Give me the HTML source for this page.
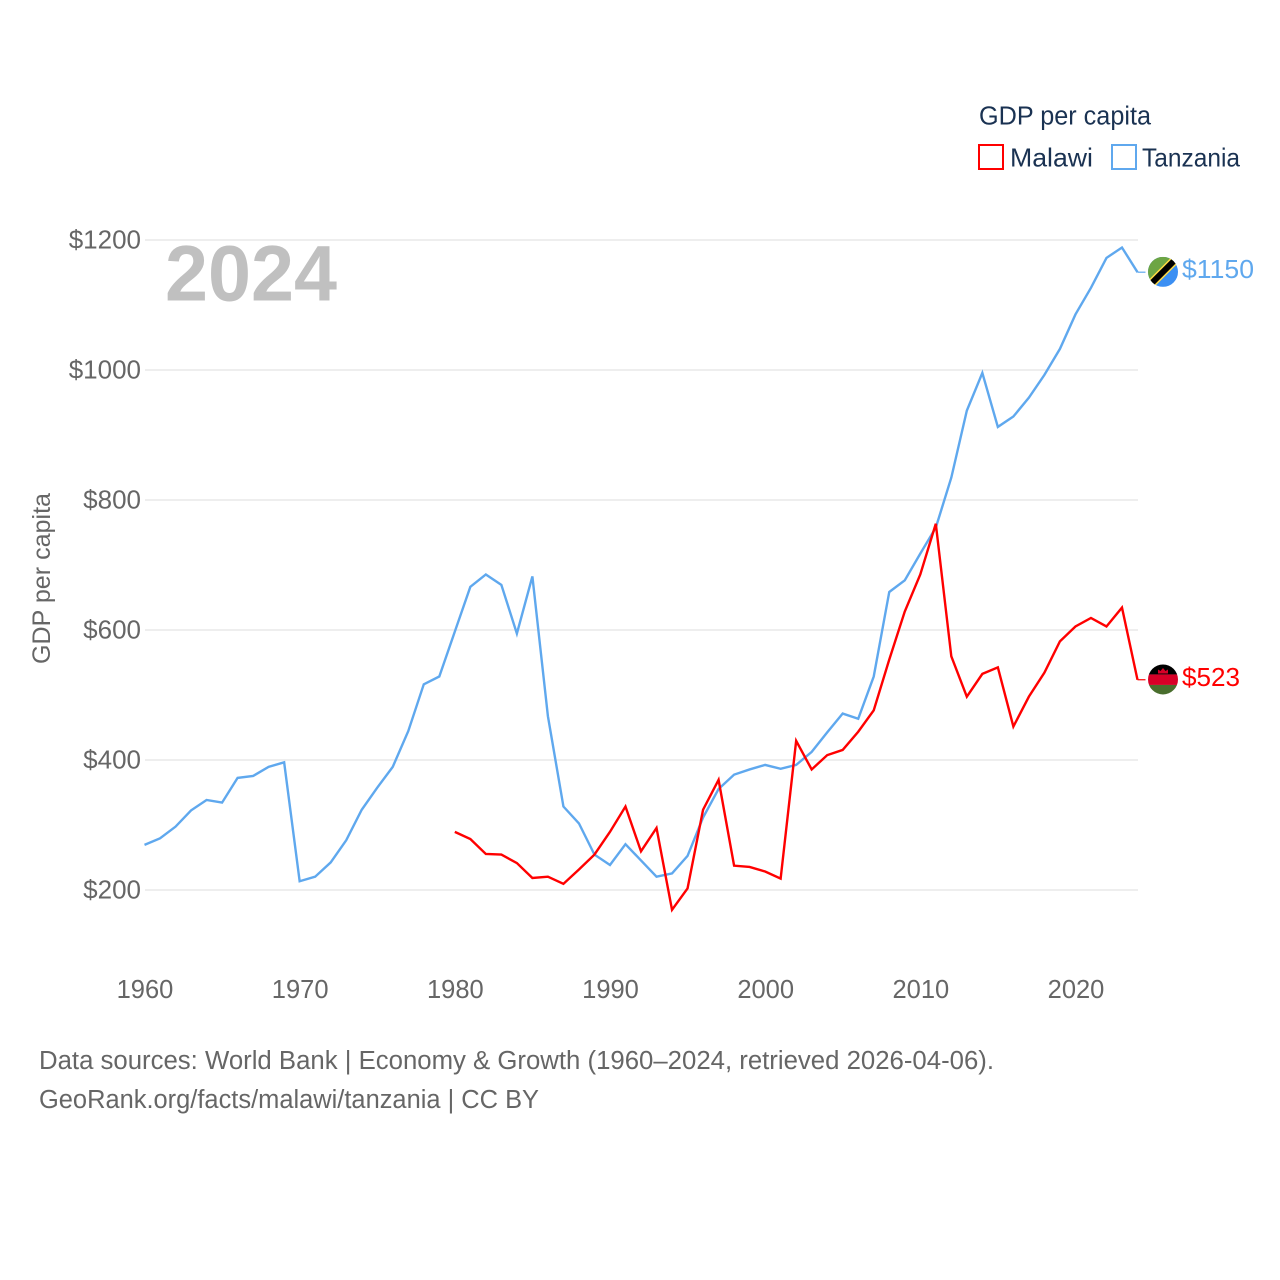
<!DOCTYPE html>
<html lang="en">
<head>
<meta charset="utf-8">
<title>GDP per capita: Malawi and Tanzania</title>
<style>
html,body{margin:0;padding:0;background:#fff;}
svg{display:block;font-family:"Liberation Sans",sans-serif;}
</style>
</head>
<body>
<svg id="chart" xmlns="http://www.w3.org/2000/svg" width="1280" height="1280" viewBox="0 0 1280 1280">
  <defs>
    <clipPath id="flag-clip"><circle cx="0" cy="0" r="15"/></clipPath>
  </defs>
  <rect width="1280" height="1280" fill="#fff"/>
  <g id="grid"></g>
  <g id="y-ticks"></g>
  <g id="x-ticks"></g>
  <text x="165" y="300.5" font-size="79" font-weight="700" fill="#c0c0c0" textLength="172" lengthAdjust="spacingAndGlyphs">2024</text>
  <text transform="translate(50,664) rotate(-90)" font-size="25" fill="#666" textLength="171" lengthAdjust="spacingAndGlyphs">GDP per capita</text>
  <g id="series"></g>

  <g id="flag-tanzania">
    <g clip-path="url(#flag-clip)">
      <rect x="-15" y="-15" width="30" height="30" fill="#3b8ff3"/>
      <polygon points="-15,15 -15,-15 15,-15" fill="#6da544"/>
      <line x1="-16" y1="16" x2="16" y2="-16" stroke="#ffda44" stroke-width="9"/>
      <line x1="-16" y1="16" x2="16" y2="-16" stroke="#000" stroke-width="6"/>
    </g>
  </g>
  <g id="flag-malawi">
    <g clip-path="url(#flag-clip)">
      <rect x="-15" y="-15" width="30" height="10" fill="#000"/>
      <rect x="-15" y="-5" width="30" height="10.5" fill="#d80027"/>
      <rect x="-15" y="5.5" width="30" height="10" fill="#496e2d"/>
      <polygon points="-5,-6 -5,-10 -2.5,-8.5 0,-11.5 2.5,-8.5 5,-10 5,-6" fill="#d80027"/>
    </g>
  </g>
  <text id="label-tanzania" x="1182" font-size="26" fill="#5fa8ee" textLength="72" lengthAdjust="spacingAndGlyphs"></text>
  <text id="label-malawi" x="1182" font-size="26" fill="#ff0000" textLength="58" lengthAdjust="spacingAndGlyphs"></text>

  <g>
    <text x="979" y="124.5" font-size="25.5" fill="#1a3252" textLength="172" lengthAdjust="spacingAndGlyphs">GDP per capita</text>
    <g>
      <rect x="979" y="145" width="24" height="24" fill="#fff" stroke="#ff0000" stroke-width="2"/>
      <text x="1010" y="166.5" font-size="26" fill="#1a3252" textLength="83" lengthAdjust="spacingAndGlyphs">Malawi</text>
    </g>
    <g>
      <rect x="1112" y="145" width="24" height="24" fill="#fff" stroke="#5fa8ee" stroke-width="2"/>
      <text x="1142" y="166.5" font-size="26" fill="#1a3252" textLength="98" lengthAdjust="spacingAndGlyphs">Tanzania</text>
    </g>
  </g>

  <text x="39" y="1069" font-size="25.5" fill="#666" textLength="955" lengthAdjust="spacingAndGlyphs">Data sources: World Bank | Economy &amp; Growth (1960–2024, retrieved 2026-04-06).</text>
  <text x="39" y="1108" font-size="25.5" fill="#666" textLength="500" lengthAdjust="spacingAndGlyphs">GeoRank.org/facts/malawi/tanzania | CC BY</text>
</svg>
<script>
const xTickYears = [1960, 1970, 1980, 1990, 2000, 2010, 2020];
const yTickValues = [200, 400, 600, 800, 1000, 1200];
const tanzaniaStartYear = 1960;
const tanzaniaValues = [269, 279, 297, 322, 338, 334, 372, 375, 389, 396, 213, 220, 242, 276, 323, 357, 389, 444, 516, 528, 597, 666, 685, 669, 594, 682, 467, 328, 302, 254, 238, 270, 245, 220, 225, 252, 311, 355, 377, 385, 392, 386, 392, 412, 442, 471, 463, 528, 658, 676, 717, 757, 834, 937, 995, 912, 928, 957, 992, 1032, 1085, 1126, 1172, 1188, 1150];
const malawiStartYear = 1980;
const malawiValues = [289, 278, 255, 254, 241, 218, 220, 209, 231, 254, 289, 328, 259, 295, 169, 202, 323, 369, 237, 235, 228, 217, 429, 385, 407, 415, 443, 476, 554, 628, 685, 763, 559, 497, 532, 542, 451, 497, 534, 582, 605, 618, 605, 634, 523];

const NS = 'http://www.w3.org/2000/svg';
function xScale(year) { return 144.5 + (year - 1960) * (1137.5 - 144.5) / (2024 - 1960); }
function yScale(value) { return 889.7 - (value - 200) * 0.65; }
function make(tag, parent, attrs) {
  const el = document.createElementNS(NS, tag);
  for (const k in attrs) el.setAttribute(k, attrs[k]);
  parent.appendChild(el);
  return el;
}

const gridGroup = document.getElementById('grid');
const yTickGroup = document.getElementById('y-ticks');
yTickValues.forEach(function (v) {
  const gl = make('line', gridGroup, { x1: 145, x2: 1138, y1: 890 - (v - 200) * 0.65, y2: 890 - (v - 200) * 0.65, stroke: '#eeeeee', 'stroke-width': 2 });
  
  
  const t = make('text', yTickGroup, { x: 141, y: 890 - (v - 200) * 0.65 + 8.5, 'text-anchor': 'end', 'font-size': 26, fill: '#666' });
  
  
  t.textContent = '$' + v;
});

const xTickGroup = document.getElementById('x-ticks');
xTickYears.forEach(function (year) {
  const t = make('text', xTickGroup, { x: 145 + (year - 1960) * 15.517, y: 998, 'text-anchor': 'middle', 'font-size': 25.5, fill: '#666' });
  
  
  t.textContent = String(year);
});

function drawSeries(name, values, startYear, color) {
  const seriesGroup = document.getElementById('series');
  const pts = values.map(function (v, i) { return xScale(startYear + i).toFixed(2) + ',' + yScale(v).toFixed(2); }).join(' ');
  const line = make('polyline', seriesGroup, { points: pts, fill: 'none', stroke: color, 'stroke-width': 2.4, 'stroke-linejoin': 'miter' });
  
  
  const lastY = yScale(values[values.length - 1]);
  const conn = make('line', seriesGroup, { x1: 1137.5, x2: 1145.5, y1: lastY, y2: lastY, stroke: color, 'stroke-width': 1.2 });
  
  
  document.getElementById('flag-' + name).setAttribute('transform', 'translate(1163,' + (lastY - 0.3) + ')');
  const label = document.getElementById('label-' + name);
  label.setAttribute('y', lastY + 6);
  label.textContent = '$' + values[values.length - 1];
}
drawSeries('tanzania', tanzaniaValues, tanzaniaStartYear, '#5fa8ee');
drawSeries('malawi', malawiValues, malawiStartYear, '#ff0000');
</script>
</body>
</html>
